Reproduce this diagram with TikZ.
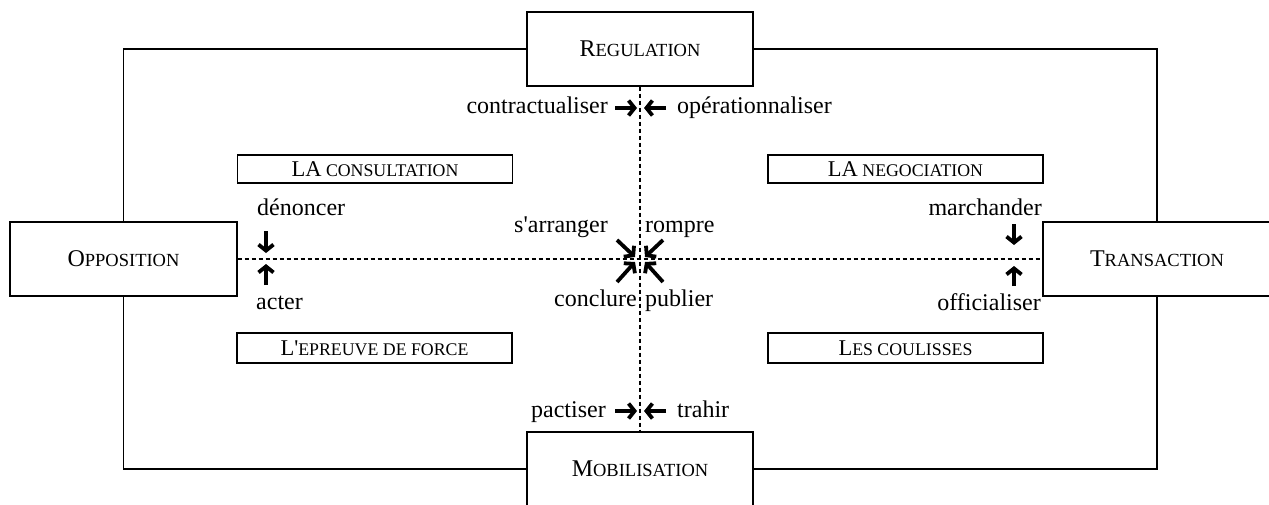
\documentclass[tikz,border=0pt]{standalone}
\usepackage{fontspec}
\setmainfont{Liberation Serif}
\usetikzlibrary{arrows.meta}
\newcommand\BigSC[2]{{\fontsize{24}{28}\selectfont #1}{\fontsize{18.5}{22}\selectfont #2}}
\newcommand\SmSC[2]{{\fontsize{22.5}{26}\selectfont #1}{\fontsize{17.8}{21}\selectfont #2}}
\begin{document}
\begin{tikzpicture}[x=1pt,y=-1pt,
  bigbox/.style={draw,line width=1.4pt,minimum width=226pt,minimum height=74pt,inner sep=0pt},
  smallbox/.style={draw,line width=1.4pt,minimum width=275pt,minimum height=28pt,inner sep=0pt},
  frame/.style={line width=1.3pt},
  dashline/.style={line width=1.4pt,dash pattern=on 4pt off 3pt},
  lbl/.style={inner sep=0pt,font=\fontsize{24}{28}\selectfont},
  harrow/.style={line width=3.8pt,-{Straight Barb[length=6pt,width=15pt,line width=3.8pt]}}
]
\useasboundingbox (0,0) rectangle (1269,504);
\fill[white] (0,0) rectangle (1269,504);

\node[bigbox] (reg) at (640,49) {\BigSC{R}{EGULATION}};
\node[bigbox] (mob) at (640,469) {\BigSC{M}{OBILISATION}};
\node[bigbox,minimum width=227pt] (opp) at (123.5,259) {\BigSC{O}{PPOSITION}};
\node[bigbox,minimum width=228pt] (tra) at (1157,259) {\BigSC{T}{RANSACTION}};

\node[smallbox] (cons) at (375,169) {\SmSC{LA}{ CONSULTATION}};
\node[smallbox] (nego) at (905.5,169) {\SmSC{LA}{ NEGOCIATION}};
\node[smallbox,minimum height=30pt] (epr) at (374.5,348) {\SmSC{L\textquotesingle}{EPREUVE DE FORCE}};
\node[smallbox,minimum height=30pt] (coul) at (905.5,348) {\SmSC{L}{ES COULISSES}};

\draw[frame] (reg.west) -| (opp.north);
\draw[frame] (opp.south) |- (mob.west);
\draw[frame] (mob.east) -| (tra.south);
\draw[frame] (tra.north) |- (reg.east);

\draw[dashline] (reg.south) -- (mob.north);
\draw[dashline,line width=1.2pt] (opp.east) -- (tra.west);

% top labels
\node[lbl,anchor=base east] (contr) at (608,113) {contractualiser};
\node[lbl,anchor=base west] (oper) at (677,113) {opérationnaliser};
\coordinate (a1s) at (615,108); \coordinate (a1e) at (637,108);
\coordinate (a2s) at (666,108); \coordinate (a2e) at (644,108);
\draw[harrow] (a1s) -- (a1e);
\draw[harrow] (a2s) -- (a2e);

% bottom labels
\node[lbl,anchor=base east] (pact) at (606,417) {pactiser};
\node[lbl,anchor=base west] (trah) at (677,417) {trahir};
\coordinate (b1s) at (615,411); \coordinate (b1e) at (637,411);
\coordinate (b2s) at (666,411); \coordinate (b2e) at (644,411);
\draw[harrow] (b1s) -- (b1e);
\draw[harrow] (b2s) -- (b2e);

% left labels
\node[lbl,anchor=base west] (denon) at (257,215) {dénoncer};
\node[lbl,anchor=base west] (acter) at (256,309) {acter};
\coordinate (c1s) at (266,231); \coordinate (c1e) at (266,253);
\coordinate (c2s) at (266,285); \coordinate (c2e) at (266,264);
\draw[harrow] (c1s) -- (c1e);
\draw[harrow] (c2s) -- (c2e);

% right labels
\node[lbl,anchor=base east] (march) at (1042,215) {marchander};
\node[lbl,anchor=base east] (offic) at (1041,310) {officialiser};
\coordinate (d1s) at (1014,224); \coordinate (d1e) at (1014,245);
\coordinate (d2s) at (1014,286); \coordinate (d2e) at (1014,266);
\draw[harrow] (d1s) -- (d1e);
\draw[harrow] (d2s) -- (d2e);

% centre labels
\node[lbl,anchor=base east] (arr) at (608,232) {s\textquotesingle arranger};
\node[lbl,anchor=base west] (romp) at (645,232) {rompre};
\node[lbl,anchor=base east] (concl) at (637,306) {conclure};
\node[lbl,anchor=base west] (publ) at (645,306) {publier};
\coordinate (e1s) at (617,240); \coordinate (e1e) at (635,257);
\coordinate (e2s) at (663,240); \coordinate (e2e) at (645,257);
\coordinate (e3s) at (617,282); \coordinate (e3e) at (635,262);
\coordinate (e4s) at (663,282); \coordinate (e4e) at (645,262);
\draw[harrow] (e1s) -- (e1e);
\draw[harrow] (e2s) -- (e2e);
\draw[harrow] (e3s) -- (e3e);
\draw[harrow] (e4s) -- (e4e);
\end{tikzpicture}
\end{document}
